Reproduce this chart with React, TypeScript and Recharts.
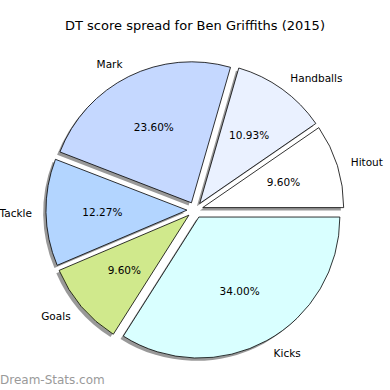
import { Pie, PieChart, Sector } from "recharts";

const categories = ["Hitout", "Handballs", "Mark", "Tackle", "Goals", "Kicks"];
const shares = [9.6, 10.93, 23.6, 12.27, 9.6, 34.0];
const colors = ["#ffffff", "#eaf1ff", "#c5d8ff", "#b3d5ff", "#d0e98c", "#d9ffff"];

const EXPLODE = 0.057;
const RAD = Math.PI / 180;
const FONT = "DejaVu Sans, sans-serif";

const rows = categories.map((name, i) => ({ name, value: shares[i], fill: colors[i] }));

// push every wedge out along its middle angle, with a soft shadow under it
function ExplodedSlice(props: any) {
  const { cx, cy, midAngle, outerRadius } = props;
  const d = outerRadius * EXPLODE;
  const ox = cx + d * Math.cos(-midAngle * RAD);
  const oy = cy + d * Math.sin(-midAngle * RAD);
  return (
    <g>
      <Sector {...props} cx={ox - 2.8} cy={oy + 2.8} fill="#000" fillOpacity={0.4} stroke="none" />
      <Sector {...props} cx={ox} cy={oy} stroke="#000" strokeWidth={0.8} />
    </g>
  );
}

function SliceLabel(props: any) {
  const { cx, cy, midAngle, outerRadius, name, value } = props;
  const d = outerRadius * EXPLODE;
  const cos = Math.cos(-midAngle * RAD);
  const sin = Math.sin(-midAngle * RAD);
  const ox = cx + d * cos;
  const oy = cy + d * sin;
  const lx = ox + outerRadius * 1.1 * cos;
  const ly = oy + outerRadius * 1.1 * sin;
  const px = ox + outerRadius * 0.6 * cos;
  const py = oy + outerRadius * 0.6 * sin;
  return (
    <g fontFamily={FONT} fontSize={10.5} fill="#000">
      <text x={lx} y={ly} textAnchor={cos >= 0 ? "start" : "end"} dominantBaseline="central">
        {name}
      </text>
      <text x={px} y={py} textAnchor="middle" dominantBaseline="central">
        {Number(value).toFixed(2)}%
      </text>
    </g>
  );
}

export default function App() {
  return (
    <div style={{ position: "absolute", left: 0, top: 0, width: 390, height: 390, background: "#fff" }}>
      <PieChart width={390} height={390} margin={{ top: 0, right: 0, bottom: 0, left: 0 }}>
        <text x={195} y={25} textAnchor="middle" dominantBaseline="central" fontFamily={FONT} fontSize={13} fill="#000">
          DT score spread for Ben Griffiths (2015)
        </text>
        <Pie
          data={rows}
          dataKey="value"
          nameKey="name"
          cx={195}
          cy={210}
          outerRadius={141}
          startAngle={0}
          endAngle={360}
          shape={ExplodedSlice}
          label={SliceLabel}
          labelLine={false}
          isAnimationActive={false}
        />
        <text x={0} y={380} dominantBaseline="central" fontFamily={FONT} fontSize={12} fill="#9a9a9a">
          Dream-Stats.com
        </text>
      </PieChart>
    </div>
  );
}
